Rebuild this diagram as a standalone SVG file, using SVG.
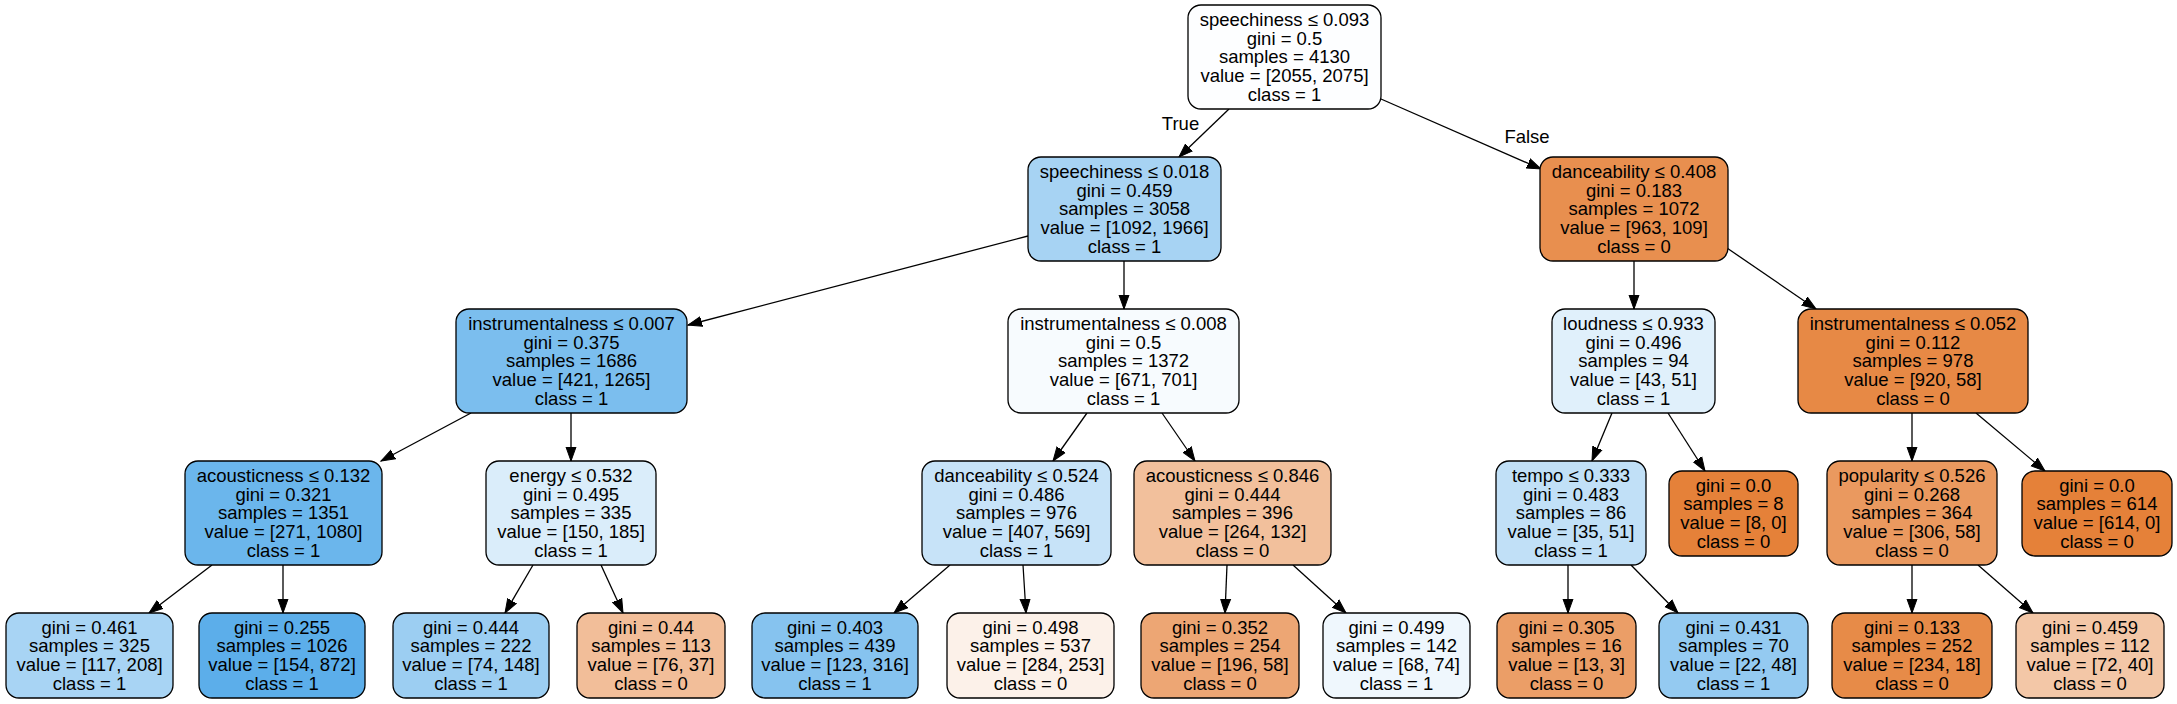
<svg xmlns="http://www.w3.org/2000/svg" width="2177" height="704" viewBox="0 0 2177 704">
<defs>
<style>
.n rect{stroke:#000;stroke-width:1.3}
text{font-family:"Liberation Sans",Arial,Helvetica,sans-serif;font-size:18.5px;fill:#000;text-anchor:middle}
.e line{stroke:#000;stroke-width:1.3;marker-end:url(#ah)}
</style>
<marker id="ah" markerUnits="userSpaceOnUse" markerWidth="16" markerHeight="12" viewBox="0 -6 16 12" refX="14" refY="0" orient="auto">
<path d="M0,-5 L14,0 L0,5 z" fill="#000" stroke="#000" stroke-width="1"/>
</marker>
</defs>
<rect width="2177" height="704" fill="#fff"/>
<g id="edges" class="e">
<line x1="1229" y1="109" x2="1179" y2="157"/>
<line x1="1381" y1="99" x2="1541" y2="169"/>
<line x1="1028" y1="236" x2="688" y2="325"/>
<line x1="1124" y1="261" x2="1124" y2="309"/>
<line x1="1634" y1="261" x2="1634" y2="309"/>
<line x1="1727" y1="248" x2="1816" y2="309"/>
<line x1="471" y1="413" x2="381" y2="461"/>
<line x1="571" y1="413" x2="571" y2="461"/>
<line x1="1087" y1="413" x2="1053" y2="461"/>
<line x1="1162" y1="413" x2="1195" y2="461"/>
<line x1="1612" y1="413" x2="1592" y2="461"/>
<line x1="1668" y1="413" x2="1705" y2="471"/>
<line x1="1912" y1="413" x2="1912" y2="461"/>
<line x1="1976" y1="413" x2="2045" y2="471"/>
<line x1="212" y1="565" x2="149" y2="613"/>
<line x1="283" y1="565" x2="283" y2="613"/>
<line x1="533" y1="565" x2="505" y2="613"/>
<line x1="601" y1="565" x2="623" y2="613"/>
<line x1="950" y1="565" x2="894" y2="613"/>
<line x1="1023" y1="565" x2="1026" y2="613"/>
<line x1="1227" y1="565" x2="1225" y2="613"/>
<line x1="1293" y1="565" x2="1346" y2="613"/>
<line x1="1568" y1="565" x2="1568" y2="613"/>
<line x1="1631" y1="565" x2="1678" y2="613"/>
<line x1="1912" y1="565" x2="1912" y2="613"/>
<line x1="1978" y1="565" x2="2033" y2="613"/>
<text x="1180.5" y="130">True</text>
<text x="1527" y="143">False</text>
</g>
<g id="n0" class="n"><rect x="1188" y="5" width="193" height="104" rx="13" fill="#fdfeff"/>
<text x="1284.5" y="26"><tspan x="1284.5">speechiness ≤ 0.093</tspan><tspan x="1284.5" dy="18.65">gini = 0.5</tspan><tspan x="1284.5" dy="18.65">samples = 4130</tspan><tspan x="1284.5" dy="18.65">value = [2055, 2075]</tspan><tspan x="1284.5" dy="18.65">class = 1</tspan></text></g>
<g id="n1" class="n"><rect x="1028" y="157" width="193" height="104" rx="13" fill="#a7d3f3"/>
<text x="1124.5" y="178"><tspan x="1124.5">speechiness ≤ 0.018</tspan><tspan x="1124.5" dy="18.65">gini = 0.459</tspan><tspan x="1124.5" dy="18.65">samples = 3058</tspan><tspan x="1124.5" dy="18.65">value = [1092, 1966]</tspan><tspan x="1124.5" dy="18.65">class = 1</tspan></text></g>
<g id="n2" class="n"><rect x="1540" y="157" width="188" height="104" rx="13" fill="#e88f4f"/>
<text x="1634" y="178"><tspan x="1634">danceability ≤ 0.408</tspan><tspan x="1634" dy="18.65">gini = 0.183</tspan><tspan x="1634" dy="18.65">samples = 1072</tspan><tspan x="1634" dy="18.65">value = [963, 109]</tspan><tspan x="1634" dy="18.65">class = 0</tspan></text></g>
<g id="n3" class="n"><rect x="456" y="309" width="231" height="104" rx="13" fill="#7bbeee"/>
<text x="571.5" y="330"><tspan x="571.5">instrumentalness ≤ 0.007</tspan><tspan x="571.5" dy="18.65">gini = 0.375</tspan><tspan x="571.5" dy="18.65">samples = 1686</tspan><tspan x="571.5" dy="18.65">value = [421, 1265]</tspan><tspan x="571.5" dy="18.65">class = 1</tspan></text></g>
<g id="n4" class="n"><rect x="1008" y="309" width="231" height="104" rx="13" fill="#f7fbfe"/>
<text x="1123.5" y="330"><tspan x="1123.5">instrumentalness ≤ 0.008</tspan><tspan x="1123.5" dy="18.65">gini = 0.5</tspan><tspan x="1123.5" dy="18.65">samples = 1372</tspan><tspan x="1123.5" dy="18.65">value = [671, 701]</tspan><tspan x="1123.5" dy="18.65">class = 1</tspan></text></g>
<g id="n5" class="n"><rect x="1552" y="309" width="163" height="104" rx="13" fill="#e0f0fb"/>
<text x="1633.5" y="330"><tspan x="1633.5">loudness ≤ 0.933</tspan><tspan x="1633.5" dy="18.65">gini = 0.496</tspan><tspan x="1633.5" dy="18.65">samples = 94</tspan><tspan x="1633.5" dy="18.65">value = [43, 51]</tspan><tspan x="1633.5" dy="18.65">class = 1</tspan></text></g>
<g id="n6" class="n"><rect x="1798" y="309" width="230" height="104" rx="13" fill="#e78945"/>
<text x="1913" y="330"><tspan x="1913">instrumentalness ≤ 0.052</tspan><tspan x="1913" dy="18.65">gini = 0.112</tspan><tspan x="1913" dy="18.65">samples = 978</tspan><tspan x="1913" dy="18.65">value = [920, 58]</tspan><tspan x="1913" dy="18.65">class = 0</tspan></text></g>
<g id="n7" class="n"><rect x="185" y="461" width="197" height="104" rx="13" fill="#6bb6ec"/>
<text x="283.5" y="482"><tspan x="283.5">acousticness ≤ 0.132</tspan><tspan x="283.5" dy="18.65">gini = 0.321</tspan><tspan x="283.5" dy="18.65">samples = 1351</tspan><tspan x="283.5" dy="18.65">value = [271, 1080]</tspan><tspan x="283.5" dy="18.65">class = 1</tspan></text></g>
<g id="n8" class="n"><rect x="486" y="461" width="170" height="104" rx="13" fill="#daedfa"/>
<text x="571" y="482"><tspan x="571">energy ≤ 0.532</tspan><tspan x="571" dy="18.65">gini = 0.495</tspan><tspan x="571" dy="18.65">samples = 335</tspan><tspan x="571" dy="18.65">value = [150, 185]</tspan><tspan x="571" dy="18.65">class = 1</tspan></text></g>
<g id="n9" class="n"><rect x="922" y="461" width="189" height="104" rx="13" fill="#c7e3f8"/>
<text x="1016.5" y="482"><tspan x="1016.5">danceability ≤ 0.524</tspan><tspan x="1016.5" dy="18.65">gini = 0.486</tspan><tspan x="1016.5" dy="18.65">samples = 976</tspan><tspan x="1016.5" dy="18.65">value = [407, 569]</tspan><tspan x="1016.5" dy="18.65">class = 1</tspan></text></g>
<g id="n10" class="n"><rect x="1134" y="461" width="197" height="104" rx="13" fill="#f2c09c"/>
<text x="1232.5" y="482"><tspan x="1232.5">acousticness ≤ 0.846</tspan><tspan x="1232.5" dy="18.65">gini = 0.444</tspan><tspan x="1232.5" dy="18.65">samples = 396</tspan><tspan x="1232.5" dy="18.65">value = [264, 132]</tspan><tspan x="1232.5" dy="18.65">class = 0</tspan></text></g>
<g id="n11" class="n"><rect x="1496" y="461" width="150" height="104" rx="13" fill="#c1e0f7"/>
<text x="1571" y="482"><tspan x="1571">tempo ≤ 0.333</tspan><tspan x="1571" dy="18.65">gini = 0.483</tspan><tspan x="1571" dy="18.65">samples = 86</tspan><tspan x="1571" dy="18.65">value = [35, 51]</tspan><tspan x="1571" dy="18.65">class = 1</tspan></text></g>
<g id="n12" class="n"><rect x="1669" y="471" width="129" height="85" rx="13" fill="#e58139"/>
<text x="1733.5" y="491.8"><tspan x="1733.5">gini = 0.0</tspan><tspan x="1733.5" dy="18.65">samples = 8</tspan><tspan x="1733.5" dy="18.65">value = [8, 0]</tspan><tspan x="1733.5" dy="18.65">class = 0</tspan></text></g>
<g id="n13" class="n"><rect x="1827" y="461" width="170" height="104" rx="13" fill="#ea995f"/>
<text x="1912" y="482"><tspan x="1912">popularity ≤ 0.526</tspan><tspan x="1912" dy="18.65">gini = 0.268</tspan><tspan x="1912" dy="18.65">samples = 364</tspan><tspan x="1912" dy="18.65">value = [306, 58]</tspan><tspan x="1912" dy="18.65">class = 0</tspan></text></g>
<g id="n14" class="n"><rect x="2022" y="471" width="150" height="85" rx="13" fill="#e58139"/>
<text x="2097" y="491.8"><tspan x="2097">gini = 0.0</tspan><tspan x="2097" dy="18.65">samples = 614</tspan><tspan x="2097" dy="18.65">value = [614, 0]</tspan><tspan x="2097" dy="18.65">class = 0</tspan></text></g>
<g id="n15" class="n"><rect x="6" y="613" width="167" height="85" rx="13" fill="#a8d4f4"/>
<text x="89.5" y="633.8"><tspan x="89.5">gini = 0.461</tspan><tspan x="89.5" dy="18.65">samples = 325</tspan><tspan x="89.5" dy="18.65">value = [117, 208]</tspan><tspan x="89.5" dy="18.65">class = 1</tspan></text></g>
<g id="n16" class="n"><rect x="199" y="613" width="166" height="85" rx="13" fill="#5caeea"/>
<text x="282" y="633.8"><tspan x="282">gini = 0.255</tspan><tspan x="282" dy="18.65">samples = 1026</tspan><tspan x="282" dy="18.65">value = [154, 872]</tspan><tspan x="282" dy="18.65">class = 1</tspan></text></g>
<g id="n17" class="n"><rect x="393" y="613" width="156" height="85" rx="13" fill="#9ccef2"/>
<text x="471" y="633.8"><tspan x="471">gini = 0.444</tspan><tspan x="471" dy="18.65">samples = 222</tspan><tspan x="471" dy="18.65">value = [74, 148]</tspan><tspan x="471" dy="18.65">class = 1</tspan></text></g>
<g id="n18" class="n"><rect x="577" y="613" width="148" height="85" rx="13" fill="#f2be99"/>
<text x="651" y="633.8"><tspan x="651">gini = 0.44</tspan><tspan x="651" dy="18.65">samples = 113</tspan><tspan x="651" dy="18.65">value = [76, 37]</tspan><tspan x="651" dy="18.65">class = 0</tspan></text></g>
<g id="n19" class="n"><rect x="752" y="613" width="166" height="85" rx="13" fill="#86c3ef"/>
<text x="835" y="633.8"><tspan x="835">gini = 0.403</tspan><tspan x="835" dy="18.65">samples = 439</tspan><tspan x="835" dy="18.65">value = [123, 316]</tspan><tspan x="835" dy="18.65">class = 1</tspan></text></g>
<g id="n20" class="n"><rect x="947" y="613" width="167" height="85" rx="13" fill="#fcf1e9"/>
<text x="1030.5" y="633.8"><tspan x="1030.5">gini = 0.498</tspan><tspan x="1030.5" dy="18.65">samples = 537</tspan><tspan x="1030.5" dy="18.65">value = [284, 253]</tspan><tspan x="1030.5" dy="18.65">class = 0</tspan></text></g>
<g id="n21" class="n"><rect x="1141" y="613" width="158" height="85" rx="13" fill="#eda674"/>
<text x="1220" y="633.8"><tspan x="1220">gini = 0.352</tspan><tspan x="1220" dy="18.65">samples = 254</tspan><tspan x="1220" dy="18.65">value = [196, 58]</tspan><tspan x="1220" dy="18.65">class = 0</tspan></text></g>
<g id="n22" class="n"><rect x="1323" y="613" width="147" height="85" rx="13" fill="#eff7fd"/>
<text x="1396.5" y="633.8"><tspan x="1396.5">gini = 0.499</tspan><tspan x="1396.5" dy="18.65">samples = 142</tspan><tspan x="1396.5" dy="18.65">value = [68, 74]</tspan><tspan x="1396.5" dy="18.65">class = 1</tspan></text></g>
<g id="n23" class="n"><rect x="1497" y="613" width="139" height="85" rx="13" fill="#eb9e67"/>
<text x="1566.5" y="633.8"><tspan x="1566.5">gini = 0.305</tspan><tspan x="1566.5" dy="18.65">samples = 16</tspan><tspan x="1566.5" dy="18.65">value = [13, 3]</tspan><tspan x="1566.5" dy="18.65">class = 0</tspan></text></g>
<g id="n24" class="n"><rect x="1659" y="613" width="149" height="85" rx="13" fill="#94caf1"/>
<text x="1733.5" y="633.8"><tspan x="1733.5">gini = 0.431</tspan><tspan x="1733.5" dy="18.65">samples = 70</tspan><tspan x="1733.5" dy="18.65">value = [22, 48]</tspan><tspan x="1733.5" dy="18.65">class = 1</tspan></text></g>
<g id="n25" class="n"><rect x="1832" y="613" width="160" height="85" rx="13" fill="#e78b48"/>
<text x="1912" y="633.8"><tspan x="1912">gini = 0.133</tspan><tspan x="1912" dy="18.65">samples = 252</tspan><tspan x="1912" dy="18.65">value = [234, 18]</tspan><tspan x="1912" dy="18.65">class = 0</tspan></text></g>
<g id="n26" class="n"><rect x="2016" y="613" width="148" height="85" rx="13" fill="#f3c7a7"/>
<text x="2090" y="633.8"><tspan x="2090">gini = 0.459</tspan><tspan x="2090" dy="18.65">samples = 112</tspan><tspan x="2090" dy="18.65">value = [72, 40]</tspan><tspan x="2090" dy="18.65">class = 0</tspan></text></g>
</svg>
